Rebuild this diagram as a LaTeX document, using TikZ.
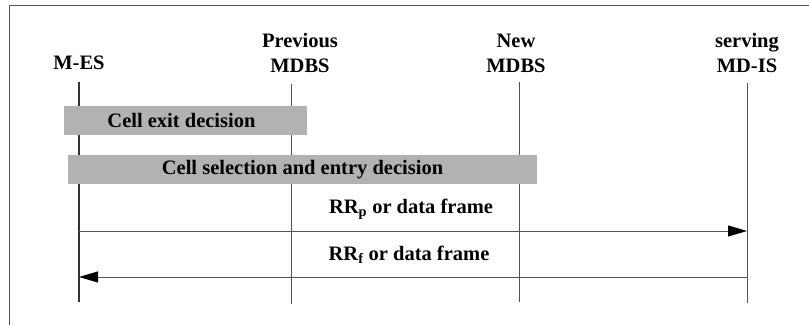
\documentclass[tikz,border=0pt]{standalone}
\usepackage{fontspec}
\setmainfont{Liberation Serif}
\usetikzlibrary{arrows.meta}
\definecolor{linegray}{gray}{0.33}
\definecolor{boxgray}{gray}{0.70}

\begin{document}
\begin{tikzpicture}[x=1pt,y=1pt,
    line width=1pt, line cap=butt,
    every node/.style={inner sep=0pt,outer sep=0pt},
    lab/.style={font=\fontsize{20.5}{25}\selectfont\bfseries,align=center},
    actbox/.style={fill=boxgray,minimum height=29pt,font=\fontsize{20.5}{25}\selectfont\bfseries},
    life/.style={linegray,line width=1pt},
    msg/.style={linegray,line width=1pt,-{Triangle[length=19pt,width=11pt,color=black]}}]
  \useasboundingbox (0,0) rectangle (809,325);
  % ---- frame (only top and left edges inside the page) ----
  \draw[linegray] (9,0) -- (9,320) -- (809,320);
  % ---- lifeline heads ----
  \node[lab,anchor=base] (mes)  at ( 79,256) {M-ES};
  \node[lab,anchor=base] (pmdbs) at (300,253) {Previous\\MDBS};
  \node[lab,anchor=base] (nmdbs) at (516,253) {New\\MDBS};
  \node[lab,anchor=base] (mdis) at (747,253) {serving\\MD-IS};
  % ---- lifeline ends ----
  \coordinate (mesT) at ( 79,243);  \coordinate (mesB) at ( 79,23);
  \coordinate (pT)   at (291,241);  \coordinate (pB)   at (291,21);
  \coordinate (nT)   at (519,243);  \coordinate (nB)   at (519,23);
  \coordinate (iT)   at (747,242);  \coordinate (iB)   at (747,22);
  \draw[life,line width=1.6pt,black!80] (mesT) -- (mesB);
  \draw[life] (pT) -- (pB);
  \draw[life] (nT) -- (nB);
  \draw[life] (iT) -- (iB);
  % ---- decision bars ----
  \node[actbox,minimum width=243pt] (exit) at (185.5,204.5) {\hspace*{-8pt}Cell exit decision};
  \node[actbox,minimum width=469pt] (select) at (302.5,155.5) {Cell selection and entry decision};
  % ---- messages ----
  \coordinate (m1s) at (79,94);   \coordinate (m1e) at (747,94);
  \coordinate (m2s) at (747,48);  \coordinate (m2e) at (79,48);
  \draw[msg] (m1s) -- (m1e);
  \draw[msg] (m2s) -- (m2e);
  \node[lab,anchor=base] (rrp) at (411,112) {RR\textsubscript{p} or data frame};
  \node[lab,anchor=base] (rrf) at (409,65) {RR\textsubscript{f} or data frame};
\end{tikzpicture}
\end{document}
